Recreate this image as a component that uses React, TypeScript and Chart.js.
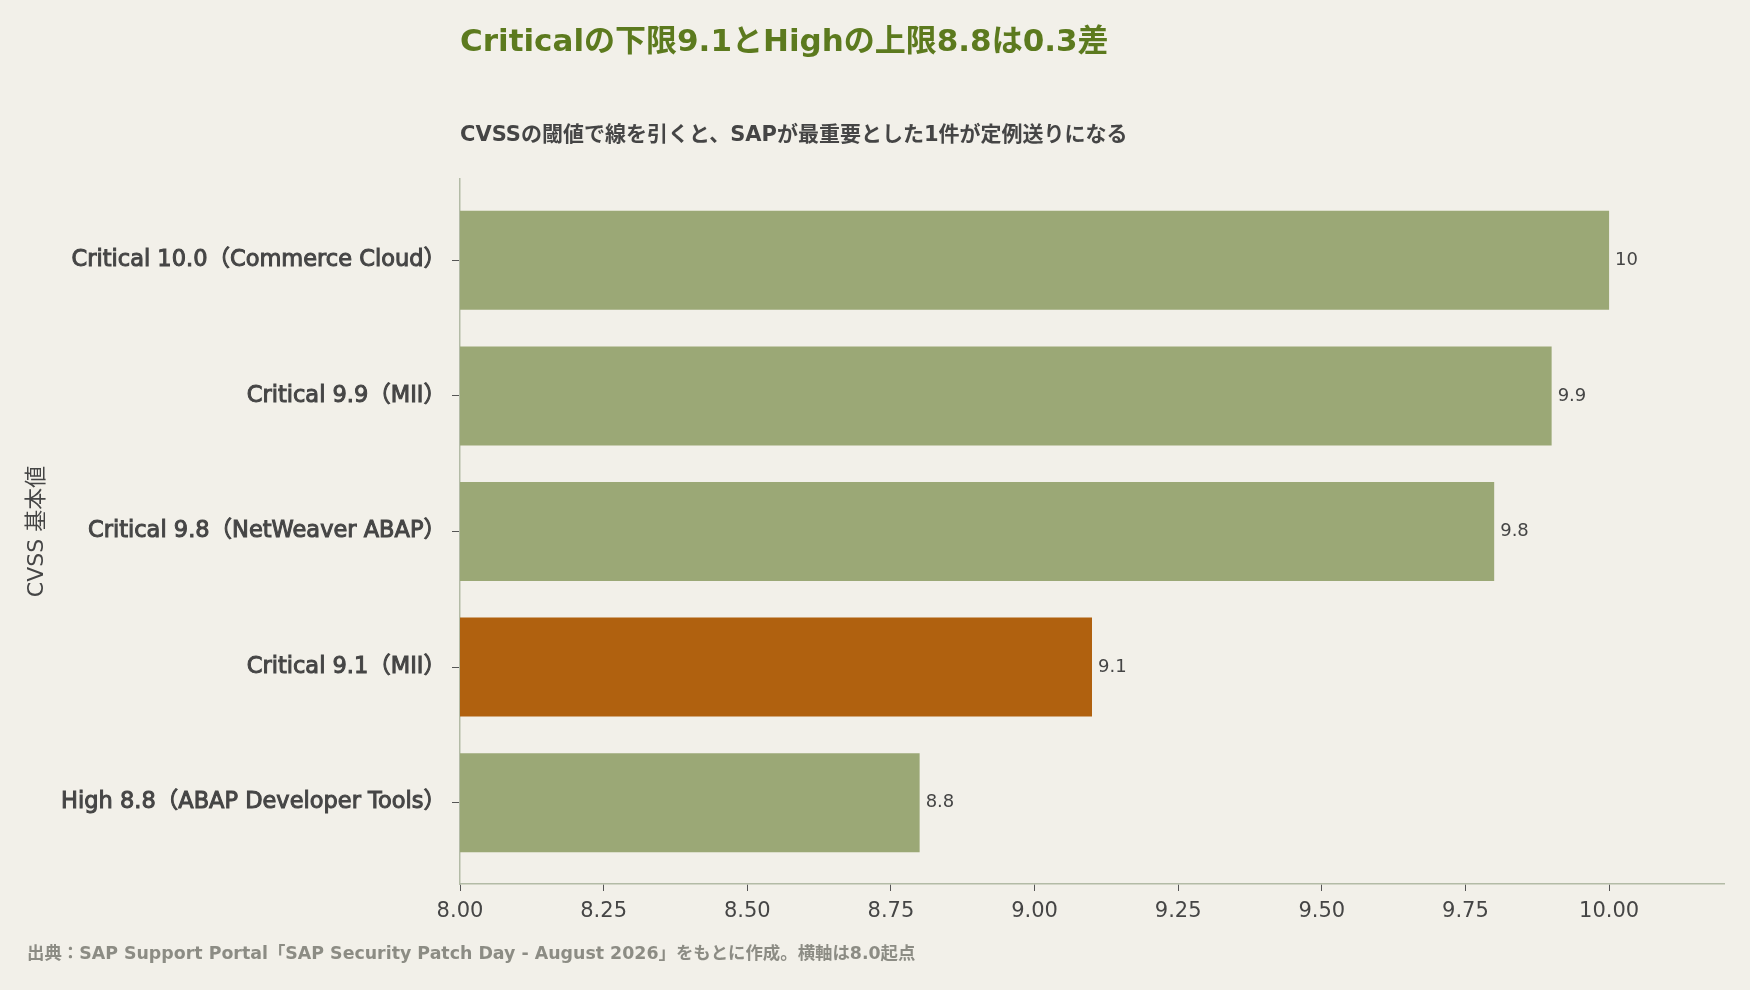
import { useEffect, useRef } from "react"
import { Chart, registerables } from "chart.js"

Chart.register(...registerables)

const FONT = "'DejaVu Sans', 'Noto Sans CJK JP', sans-serif"

const categories = [
  "Critical 10.0（Commerce Cloud）",
  "Critical 9.9（MII）",
  "Critical 9.8（NetWeaver ABAP）",
  "Critical 9.1（MII）",
  "High 8.8（ABAP Developer Tools）",
]
const scores = [10.0, 9.9, 9.8, 9.1, 8.8]
const highlightIndex = 3
const xTicks = [8.0, 8.25, 8.5, 8.75, 9.0, 9.25, 9.5, 9.75, 10.0]

const titleText = "Criticalの下限9.1とHighの上限8.8は0.3差"
const subtitleText = "CVSSの閾値で線を引くと、SAPが最重要とした1件が定例送りになる"
const yTitleText = "CVSS 基本値"
const sourceText = "出典：SAP Support Portal「SAP Security Patch Day - August 2026」をもとに作成。横軸は8.0起点"

const BG = "#f2f0e9"
const GREEN = "#9ba876"
const ORANGE = "#b0610f"
const TEXT = "#454545"
const SPINE = "#b3bba6"

// draws the heading, subtitle, footnote and the value labels
const decorPlugin = {
  id: "decor",
  beforeDraw(chart: any) {
    const { ctx, width, height } = chart
    ctx.save()
    ctx.fillStyle = BG
    ctx.fillRect(0, 0, width, height)
    ctx.restore()
  },
  afterDraw(chart: any) {
    const { ctx } = chart
    const left = chart.chartArea.left
    ctx.save()
    ctx.textBaseline = "middle"
    ctx.textAlign = "left"
    ctx.fillStyle = "#5c7a1e"
    ctx.font = `bold 31px ${FONT}`
    ctx.fillText(titleText, left, 43)
    ctx.fillStyle = TEXT
    ctx.font = `bold 21px ${FONT}`
    ctx.fillText(subtitleText, left, 136)
    ctx.fillStyle = "#8c8c84"
    ctx.font = `bold 17.4px ${FONT}`
    ctx.fillText(sourceText, 27, 954)

    const meta = chart.getDatasetMeta(0)
    ctx.fillStyle = TEXT
    ctx.font = `18px ${FONT}`
    meta.data.forEach((bar: any, i: number) => {
      const v = scores[i]
      ctx.fillText(Number.isInteger(v) ? String(v) : v.toFixed(1), bar.x + 6, bar.y)
    })
    ctx.restore()
  },
}

export default function App() {
  const chartRef = useRef<HTMLCanvasElement>(null)
  const chartInstance = useRef<Chart | null>(null)

  useEffect(() => {
    document.body.style.margin = "0"
    if (!chartRef.current) return
    if (chartInstance.current) chartInstance.current.destroy()
    const ctx = chartRef.current.getContext("2d")
    if (!ctx) return

    const config: any = {
      type: "bar",
      data: {
        datasets: [
          {
            data: scores.map((v, i) => ({ x: v, y: i })),
            backgroundColor: scores.map((_, i) => (i === highlightIndex ? ORANGE : GREEN)),
            borderWidth: 0,
            barPercentage: 0.73,
            categoryPercentage: 1,
          },
        ],
      },
      options: {
        indexAxis: "y",
        animation: false,
        responsive: false,
        maintainAspectRatio: false,
        layout: { padding: { top: 179, right: 26, left: 0, bottom: 0 } },
        plugins: {
          legend: { display: false },
          tooltip: { enabled: false },
        },
        scales: {
          x: {
            type: "linear",
            min: 8,
            max: 10.2,
            afterFit: (s: any) => {
              s.height = 106
            },
            afterBuildTicks: (s: any) => {
              s.ticks = xTicks.map((v) => ({ value: v }))
            },
            ticks: {
              callback: (v: any) => Number(v).toFixed(2),
              color: TEXT,
              font: { family: FONT, size: 21 },
              padding: 8,
            },
            grid: { drawOnChartArea: false, drawTicks: true, tickLength: 7, color: "#555" },
            border: { color: SPINE, width: 1.5 },
          },
          y: {
            type: "linear",
            min: -0.6,
            max: 4.6,
            reverse: true,
            offset: false,
            afterFit: (s: any) => {
              s.width = 460
            },
            afterBuildTicks: (s: any) => {
              s.ticks = categories.map((_, i) => ({ value: i }))
            },
            ticks: {
              callback: (v: any) => categories[v] ?? "",
              color: TEXT,
              font: { family: FONT, size: 22.5 },
              textStrokeColor: TEXT,
              textStrokeWidth: 1,
              padding: 6,
            },
            title: {
              display: true,
              text: yTitleText,
              color: TEXT,
              font: { family: FONT, size: 22 },
              padding: { top: 24, bottom: 0 },
            },
            grid: { offset: false, drawOnChartArea: false, drawTicks: true, tickLength: 8, color: "#555" },
            border: { color: SPINE, width: 1.5 },
          },
        },
      },
      plugins: [decorPlugin],
    }

    chartInstance.current = new Chart(ctx, config)

    return () => {
      if (chartInstance.current) {
        chartInstance.current.destroy()
        chartInstance.current = null
      }
    }
  }, [])

  return (
    <div style={{ width: 1750, height: 990, background: BG }}>
      <canvas ref={chartRef} width={1750} height={990} style={{ width: 1750, height: 990 }} />
    </div>
  )
}
